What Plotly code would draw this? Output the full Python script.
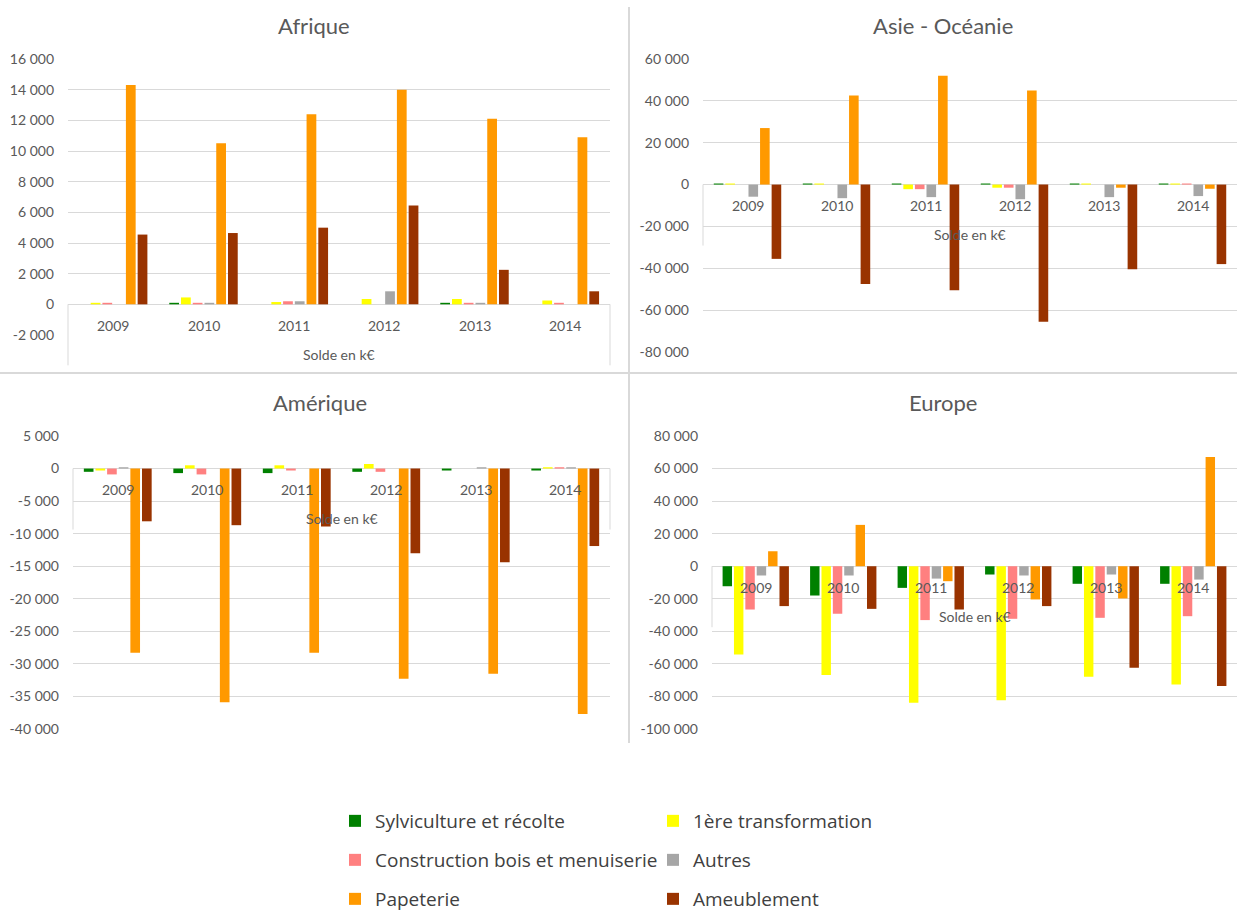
import plotly.graph_objects as go

YEARS = ["2009", "2010", "2011", "2012", "2013", "2014"]
SERIES = ["Sylviculture et récolte", "1ère transformation", "Construction bois et menuiserie",
          "Autres", "Papeterie", "Ameublement"]
COLORS = ["#008000", "#FFFF00", "#FF8080", "#A6A6A6", "#FF9900", "#993300"]

# Afrique
afr_sylv = [0, 100, 0, 0, 100, 0]
afr_prem = [100, 450, 150, 350, 350, 250]
afr_cons = [100, 100, 200, 0, 100, 100]
afr_autr = [0, 100, 200, 850, 100, 0]
afr_pape = [14300, 10500, 12400, 14000, 12100, 10900]
afr_ameu = [4550, 4650, 5000, 6450, 2250, 850]

# Asie - Océanie
asi_sylv = [500, 500, 500, 500, 500, 500]
asi_prem = [500, 500, -2200, -1500, 500, 500]
asi_cons = [0, 0, -2200, -1500, 0, 500]
asi_autr = [-5800, -6500, -6000, -7000, -6000, -5500]
asi_pape = [27000, 42500, 52000, 45000, -1500, -2000]
asi_ameu = [-35500, -47500, -50500, -65500, -40500, -38000]

# Amérique
ame_sylv = [-500, -700, -700, -500, -300, -300]
ame_prem = [-300, 500, 500, 700, 0, 200]
ame_cons = [-900, -900, -300, -500, 0, 200]
ame_autr = [200, 0, 0, 0, 200, 200]
ame_pape = [-28300, -35900, -28300, -32300, -31500, -37700]
ame_ameu = [-8100, -8700, -8900, -13000, -14400, -11900]

# Europe
eur_sylv = [-12300, -18000, -13300, -5100, -10800, -10800]
eur_prem = [-54200, -66900, -83800, -82400, -67900, -72600]
eur_cons = [-26600, -29200, -33100, -32300, -31700, -30700]
eur_autr = [-5700, -5700, -7600, -5700, -5100, -8200]
eur_pape = [9200, 25400, -9200, -20400, -19800, 67100]
eur_ameu = [-24500, -26200, -26600, -24500, -62400, -73600]

afr_ticks = list(range(-2000, 16001, 2000))
asi_ticks = list(range(-80000, 60001, 20000))
ame_ticks = list(range(-40000, 5001, 5000))
eur_ticks = list(range(-100000, 80001, 20000))

TITLES = ["Afrique", "Asie - Océanie", "Amérique", "Europe"]
AXIS_LABEL = "Solde en k€"

W, H = 1237, 914

def fx(px):
    return px / W

def fy(px):
    return 1 - px / H

def fmt(v):
    return f"{v:,}".replace(",", " ")

panels = [
    dict(data=[afr_sylv, afr_prem, afr_cons, afr_autr, afr_pape, afr_ameu], ticks=afr_ticks,
         xd=[fx(68), fx(610)], yd=[fy(335), fy(59)], right_box=True, title_x=314, title_y=25),
    dict(data=[asi_sylv, asi_prem, asi_cons, asi_autr, asi_pape, asi_ameu], ticks=asi_ticks,
         xd=[fx(703), 1.0], yd=[fy(352), fy(59)], right_box=False, title_x=943, title_y=25),
    dict(data=[ame_sylv, ame_prem, ame_cons, ame_autr, ame_pape, ame_ameu], ticks=ame_ticks,
         xd=[fx(73), fx(610)], yd=[fy(729), fy(436)], right_box=True, title_x=320, title_y=402),
    dict(data=[eur_sylv, eur_prem, eur_cons, eur_autr, eur_pape, eur_ameu], ticks=eur_ticks,
         xd=[fx(712), 1.0], yd=[fy(729), fy(436)], right_box=False, title_x=943, title_y=402),
]

LEGEND_OF = ["legend", "legend", "legend2", "legend2", "legend3", "legend3"]
GRID = "#D9D9D9"
TXT = "#595959"
FONT = "Lato"

fig = go.Figure()
annotations = []
shapes = []
layout_axes = {}

for i, p in enumerate(panels):
    n = "" if i == 0 else str(i + 1)
    xname, yname = "x" + n, "y" + n
    for s in range(6):
        fig.add_trace(go.Bar(
            x=YEARS, y=p["data"][s], name=SERIES[s], xaxis=xname, yaxis=yname,
            marker=dict(color=COLORS[s], line=dict(width=0)),
            showlegend=(i == 0), legend=LEGEND_OF[s], hoverinfo="skip"))
    ymin, ymax = min(p["ticks"]), max(p["ticks"])
    layout_axes["xaxis" + n] = dict(domain=p["xd"], anchor=yname, type="category",
                                    categoryorder="array", categoryarray=YEARS,
                                    range=[-0.5, len(YEARS) - 0.5],
                                    showticklabels=False, showgrid=False, zeroline=False,
                                    showline=False, fixedrange=True)
    layout_axes["yaxis" + n] = dict(domain=p["yd"], anchor=xname, range=[ymin, ymax],
                                    tickvals=p["ticks"], ticktext=[fmt(v) for v in p["ticks"]],
                                    showgrid=True, gridcolor=GRID, gridwidth=1,
                                    zeroline=True, zerolinecolor=GRID, zerolinewidth=1,
                                    showline=False, ticks="", ticklabelstandoff=13,
                                    tickfont=dict(family=FONT, size=14, color=TXT),
                                    fixedrange=True)
    for k, yr in enumerate(YEARS):
        annotations.append(dict(x=k, y=0, xref=xname, yref=yname, text=yr, showarrow=False,
                                yshift=-21, yanchor="middle",
                                font=dict(family=FONT, size=14, color=TXT)))
    annotations.append(dict(x=0.5, y=0, xref=xname + " domain", yref=yname, text=AXIS_LABEL,
                            showarrow=False, yshift=-50, yanchor="middle",
                            font=dict(family=FONT, size=14, color=TXT)))
    annotations.append(dict(x=fx(p["title_x"]), y=fy(p["title_y"]), xref="paper", yref="paper",
                            text=TITLES[i], showarrow=False, xanchor="center", yanchor="middle",
                            font=dict(family=FONT, size=22, color=TXT)))
    zero_frac = (0 - ymin) / (ymax - ymin)
    box_x = [0, 1] if p["right_box"] else [0]
    for bx in box_x:
        shapes.append(dict(type="line", xref=xname + " domain", yref=yname + " domain",
                           x0=bx, x1=bx, ysizemode="pixel", yanchor=zero_frac, y0=0, y1=-61,
                           line=dict(color=GRID, width=1)))

# panel dividers
shapes.append(dict(type="line", xref="paper", yref="paper", x0=fx(629), x1=fx(629),
                   y0=fy(7), y1=fy(743), line=dict(color=GRID, width=2)))
shapes.append(dict(type="line", xref="paper", yref="paper", x0=0, x1=1,
                   y0=fy(373), y1=fy(373), line=dict(color=GRID, width=2)))

legend_common = dict(orientation="h", x=fx(335), xanchor="left", yanchor="middle",
                     entrywidth=273, entrywidthmode="pixels", itemclick=False,
                     itemdoubleclick=False, bgcolor="rgba(0,0,0,0)",
                     font=dict(family="Open Sans", size=19, color="#404040"),
                     tracegroupgap=0, itemsizing="constant")

fig.update_layout(
    width=W, height=H, margin=dict(l=0, r=0, t=0, b=0, autoexpand=False),
    paper_bgcolor="white", plot_bgcolor="white",
    barmode="group", bargap=0.22, bargroupgap=0.17,
    annotations=annotations, shapes=shapes,
    legend=dict(legend_common, y=fy(821)),
    legend2=dict(legend_common, y=fy(860)),
    legend3=dict(legend_common, y=fy(899)),
    **layout_axes,
)

fig.write_html("out.html", config={"displayModeBar": False, "staticPlot": True},
               post_script="document.body.style.margin='0';document.body.style.overflow='hidden';")
